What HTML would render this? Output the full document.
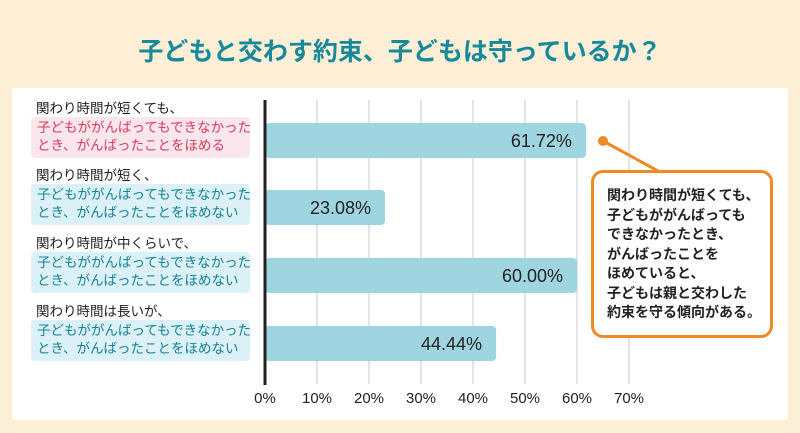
<!DOCTYPE html>
<html><head><meta charset="utf-8">
<style>
body{margin:0;width:800px;height:433px;overflow:hidden;background:#fcefd6;font-family:"Liberation Sans","Noto Sans CJK JP",sans-serif;}
.t{position:absolute;white-space:nowrap;}
</style></head><body>
<div style="position:relative;width:800px;height:433px;">
<div class="t" style="left:0;width:800px;top:32px;text-align:center;font-size:25px;font-weight:bold;color:#17899a;">子どもと交わす約束、子どもは守っているか？</div>
<div style="position:absolute;left:12px;top:88px;width:776px;height:332px;background:#fff;border-radius:4px;"></div>
<div id="labels"></div>
<svg id="chart" width="800" height="433" style="position:absolute;left:0;top:0;"></svg>
<div style="position:absolute;left:591px;top:170px;width:182px;height:168px;border:3px solid #f08a24;border-radius:12px;background:#fff;box-sizing:border-box;"></div>
<div class="t" style="left:607px;top:186px;font-size:14px;line-height:19.5px;font-weight:bold;color:#222;">関わり時間が短くても、<br>子どもががんばっても<br>できなかったとき、<br>がんばったことを<br>ほめていると、<br>子どもは親と交わした<br>約束を守る傾向がある。</div>
</div>
<script>
const categories=["関わり時間が短くても、|子どもががんばってもできなかった|とき、がんばったことをほめる","関わり時間が短く、|子どもががんばってもできなかった|とき、がんばったことをほめない","関わり時間が中くらいで、|子どもががんばってもできなかった|とき、がんばったことをほめない","関わり時間は長いが、|子どもががんばってもできなかった|とき、がんばったことをほめない"];
const values=[61.72,23.08,60.00,44.44];
const ticks=[0,10,20,30,40,50,60,70];
const x0=265,pxPer=5.2;
const xs=v=>x0+v*pxPer;
const rowY=[123,190,258,326],barH=35;
const svg=document.getElementById('chart');
const NS='http://www.w3.org/2000/svg';
function mk(t,a){const e=document.createElementNS(NS,t);for(const k in a)e.setAttribute(k,a[k]);svg.appendChild(e);return e;}
ticks.forEach((t,i)=>{
 if(t>0){const l=mk('line',{x1:xs(t),x2:xs(t),y1:100,y2:384,stroke:'#c8c8c8','stroke-width':1});
 
 }
 const tx=mk('text',{x:xs(t),y:403,'text-anchor':'middle','font-size':15,fill:'#222'});
 tx.textContent=t+'%';
 
 
});
values.forEach((v,i)=>{
 const r=mk('rect',{x:x0,y:rowY[i],width:xs(v)-x0,height:barH,rx:4,fill:'#9fd5e0'});
 
 
 const tx=mk('text',{x:xs(v)-14,y:rowY[i]+24,'text-anchor':'end','font-size':18,fill:'#222'});
 tx.textContent=v.toFixed(2)+'%';
 
 
});
const ax=mk('line',{x1:x0,x2:x0,y1:100,y2:385,stroke:'#222','stroke-width':3});


const cl=mk('line',{x1:603,y1:141,x2:660,y2:172,stroke:'#f08a24','stroke-width':3});


const dot=mk('circle',{cx:603,cy:141,r:5,fill:'#f08a24'});


const lab=document.getElementById('labels');
categories.forEach((c,i)=>{
 const p=c.split('|');const top=rowY[i]-26;const hi=i===0;
 const d=document.createElement('div');
 
 
 d.className='t';d.style.cssText=`left:36px;top:${top}px;font-size:13.5px;color:#222;`;
 d.textContent=p[0];lab.appendChild(d);
 const b=document.createElement('div');
 
 
 b.className='t';b.style.cssText=`left:31px;top:${top+20}px;width:219px;height:41px;box-sizing:border-box;padding:2px 0 0 6px;border-radius:4px;font-size:13.5px;line-height:18px;background:${hi?'#fbe6ee':'#dcf0f8'};color:${hi?'#d93b5a':'#138395'};`;
 b.innerHTML=p[1]+'<br>'+p[2];lab.appendChild(b);
});
</script>
</body></html>
